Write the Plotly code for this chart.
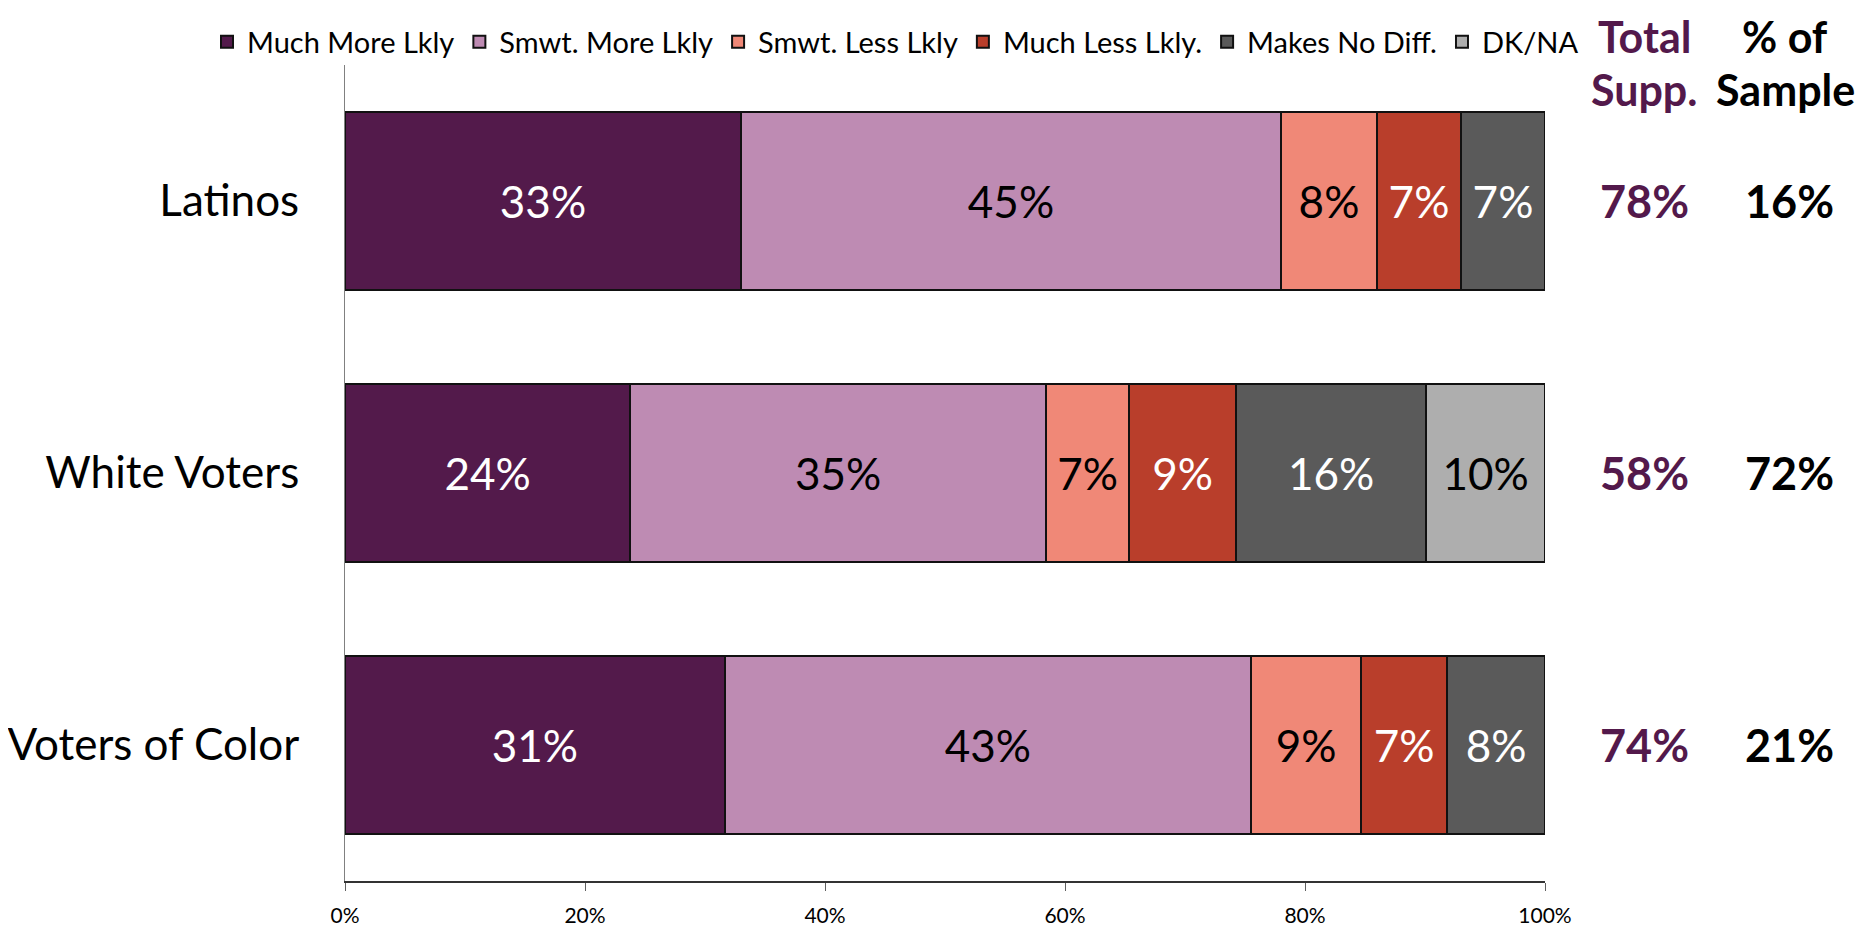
import plotly.graph_objects as go

# ---- data ----
categories = ["Latinos", "White Voters", "Voters of Color"]
series_names = ["Much More Lkly", "Smwt. More Lkly", "Smwt. Less Lkly",
                "Much Less Lkly.", "Makes No Diff.", "DK/NA"]
much_more = [33, 24, 31]
smwt_more = [45, 35, 43]
smwt_less = [8, 7, 9]
much_less = [7, 9, 7]
no_diff = [7, 16, 8]
dk_na = [None, 10, None]
total_supp = [78, 58, 74]
pct_sample = [16, 72, 21]
header1_lines = ["Total", "Supp."]
header2_lines = ["% of", "Sample"]
x_ticks = [0, 20, 40, 60, 80, 100]

series_values = [much_more, smwt_more, smwt_less, much_less, no_diff, dk_na]
fill_colors = ["#531A4B", "#BE8BB3", "#F08877", "#B93E2B", "#5A5A5A", "#AEAEAE"]
text_colors = ["white", "black", "black", "white", "white", "black"]

FONT = "Lato, 'Open Sans', sans-serif"
PURPLE = "#53194B"

# page has an 8px body margin; design in screenshot pixels and subtract it
OFF = 8
W, H = 1868 - OFF, 927 - OFF
plot_left, plot_right, plot_top, plot_bottom = 345 - OFF, 1545 - OFF, 65 - OFF, 881 - OFF
L, R, T, B = plot_left, W - plot_right, plot_top, H - plot_bottom
pw, ph = W - L - R, H - T - B


def px_x(sx):
    return (sx - OFF - L) / pw


def px_y(sy):
    return (H - B - (sy - OFF)) / ph


fig = go.Figure()
for name, vals, fc, tc in zip(series_names, series_values, fill_colors, text_colors):
    fig.add_trace(go.Bar(
        name=name,
        y=categories,
        x=vals,
        orientation="h",
        marker=dict(color=fc, line=dict(color="#111111", width=2)),
        text=[f"{v}%" if v is not None else "" for v in vals],
        textposition="inside",
        insidetextanchor="middle",
        textangle=0,
        textfont=dict(family=FONT, size=44, color=tc),
        hoverinfo="skip",
    ))

annotations = []
col1_x = px_x(1644)
col2_x = px_x(1789)
header_y = [px_y(37), px_y(89)]
for line, hy in zip(header1_lines, header_y):
    annotations.append(dict(
        text=f"<b>{line}</b>", xref="paper", yref="paper", x=col1_x, y=hy,
        xanchor="center", yanchor="middle", showarrow=False,
        font=dict(family=FONT, size=43, color=PURPLE)))
for line, hy in zip(header2_lines, header_y):
    annotations.append(dict(
        text=f"<b>{line}</b>", xref="paper", yref="paper", x=px_x(1785), y=hy,
        xanchor="center", yanchor="middle", showarrow=False,
        font=dict(family=FONT, size=43, color="black")))
for cat, ts, ps in zip(categories, total_supp, pct_sample):
    annotations.append(dict(
        text=f"<b>{ts}%</b>", xref="paper", yref="y", x=col1_x, y=cat,
        xanchor="center", yanchor="middle", showarrow=False,
        font=dict(family=FONT, size=45, color=PURPLE)))
    annotations.append(dict(
        text=f"<b>{ps}%</b>", xref="paper", yref="y", x=col2_x, y=cat,
        xanchor="center", yanchor="middle", showarrow=False,
        font=dict(family=FONT, size=45, color="black")))

fig.update_layout(
    width=W, height=H,
    margin=dict(l=L, r=R, t=T, b=B, autoexpand=False),
    paper_bgcolor="white", plot_bgcolor="white",
    barmode="stack", barnorm="percent", bargap=0.345,
    font=dict(family=FONT, color="black"),
    showlegend=True,
    legend=dict(
        orientation="h", x=px_x(207), xanchor="left", y=px_y(42), yanchor="middle",
        font=dict(family=FONT, size=29, color="black"),
        traceorder="normal", bgcolor="rgba(0,0,0,0)",
    ),
    annotations=annotations,
    xaxis=dict(
        range=[0, 100], tickvals=x_ticks, ticktext=[f"{v}%" for v in x_ticks],
        showgrid=False, zeroline=False,
        showline=True, linecolor="#333333", linewidth=2,
        ticks="outside", ticklen=8, tickcolor="#606060", tickwidth=1,
        tickfont=dict(family=FONT, size=21, color="black"),
        ticklabelstandoff=7,
    ),
    yaxis=dict(
        autorange="reversed", showgrid=False, zeroline=False,
        showline=True, linecolor="#808080", linewidth=1,
        ticks="", tickfont=dict(family=FONT, size=44, color="black"),
        ticklabelstandoff=36,
    ),
)

fig.write_html("out.html")
